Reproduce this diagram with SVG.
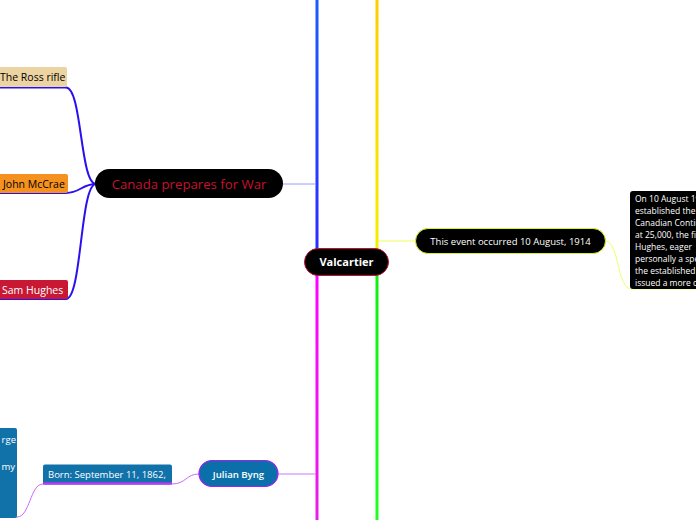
<svg xmlns="http://www.w3.org/2000/svg" width="696" height="520" viewBox="0 0 696 520">
<defs>
<linearGradient id="gBlue" x1="0" y1="0" x2="0" y2="1"><stop offset="0" stop-color="#1a5cff"/><stop offset="1" stop-color="#2e2aff"/></linearGradient>
<linearGradient id="gYellow" x1="0" y1="0" x2="0" y2="1"><stop offset="0" stop-color="#ffcc00"/><stop offset="1" stop-color="#f2f000"/></linearGradient>
<linearGradient id="gMag" x1="0" y1="0" x2="0" y2="1"><stop offset="0" stop-color="#ff00ff"/><stop offset="1" stop-color="#e81ee8"/></linearGradient>
<linearGradient id="gGreen" x1="0" y1="0" x2="0" y2="1"><stop offset="0" stop-color="#11ee11"/><stop offset="1" stop-color="#22ff22"/></linearGradient>
</defs>
<style>
text{font-family:"Open Sans","Noto Sans","DejaVu Sans",sans-serif;}
.thin{fill:none;stroke-width:1;}
.br{fill:none;stroke:#2a10f0;stroke-width:2;}
.t9{font-size:9.5px;}
.leaf{font-size:10.5px;}
.wt{fill:#ffffff;}
</style>
<rect width="696" height="520" fill="#ffffff"/>
<g id="connectors">
<rect x="315.5" y="0" width="3" height="250" fill="url(#gBlue)"/>
<rect x="375.5" y="0" width="3" height="250" fill="url(#gYellow)"/>
<rect x="315.5" y="274" width="3" height="246" fill="url(#gMag)"/>
<rect x="375.5" y="274" width="3" height="246" fill="url(#gGreen)"/>
<path class="thin" stroke="#9a9aff" d="M283,184 H316"/>
<path class="thin" stroke="#eeff55" d="M378,241 H416"/>
<path class="thin" stroke="#cc77ff" d="M278,474 H316"/>
<path class="br" d="M96,184 C80,184 82,87.5 66,87.5 H0"/>
<path class="br" d="M96,184 C82,184 80,193 66,193 H0"/>
<path class="br" d="M96,184 C80,184 82,299 66,299 H0"/>
<path class="thin" stroke="#eeff66" d="M605,241 C620,241 616,289 632,289 H696"/>
<path class="thin" stroke="#cc66ff" d="M199,474 C186,474 186,484 172,484 H43"/>
<path class="thin" stroke="#cc66ff" d="M43,484 C30,484 30,517 17,517 H0"/>
</g>
<g id="valcartier">
<rect x="304.5" y="248.5" width="84" height="27" rx="13.5" fill="#000000" stroke="#c0103a" stroke-width="1"/>
<text x="346.5" y="266" text-anchor="middle" font-size="11px" font-weight="bold" class="wt">Valcartier</text>
</g>
<g id="canada">
<rect x="95" y="169" width="188" height="29" rx="14.5" fill="#000000"/>
<text x="189" y="188.5" text-anchor="middle" font-size="13.2px" fill="#c8102e">Canada prepares for War</text>
</g>
<g id="ross">
<rect x="-4" y="67" width="71" height="20" rx="2" fill="#ecd3a2"/>
<text x="0" y="81" class="leaf" fill="#000000">The Ross rifle</text>
</g>
<g id="mccrae">
<rect x="-4" y="174" width="72" height="19" rx="2" fill="#f5911e"/>
<text x="3" y="187.5" class="leaf" fill="#000000">John McCrae</text>
</g>
<g id="hughes">
<rect x="-4" y="280" width="72" height="19" rx="2" fill="#c81834"/>
<text x="2" y="293.5" class="leaf wt">Sam Hughes</text>
</g>
<g id="event">
<rect x="415.5" y="228.5" width="190" height="25" rx="12.5" fill="#000000" stroke="#d8f020" stroke-width="1"/>
<text x="510.5" y="244.5" text-anchor="middle" class="t9 wt">This event occurred 10 August, 1914</text>
</g>
<g id="event-note">
<rect x="630" y="191" width="80" height="98" rx="3" fill="#000000"/>
<g font-size="8.5px" fill="#ffffff">
<text x="635" y="202">On 10 August 1914</text>
<text x="635" y="214">established the</text>
<text x="635" y="226">Canadian Contingent</text>
<text x="635" y="238">at 25,000, the figure</text>
<text x="635" y="250">Hughes, eager</text>
<text x="635" y="262">personally a special</text>
<text x="635" y="274">the established</text>
<text x="635" y="286">issued a more c</text>
</g>
</g>
<g id="byng">
<rect x="199" y="460.5" width="79" height="26" rx="13" fill="#0b70aa" stroke="#a020f0" stroke-width="1.2"/>
<text x="238.5" y="477.5" text-anchor="middle" font-size="9.6px" font-weight="600" class="wt">Julian Byng</text>
</g>
<g id="born">
<rect x="43" y="464.5" width="129" height="20" rx="2" fill="#1172aa"/>
<rect x="43" y="482.5" width="129" height="2" fill="#cc33ff"/>
<text x="48" y="478" class="t9 wt">Born: September 11, 1862,</text>
</g>
<g id="george">
<rect x="-4" y="428" width="21" height="90" rx="2" fill="#1172aa"/>
<text x="16" y="443" text-anchor="end" class="t9 wt">rge</text>
<text x="15" y="470" text-anchor="end" class="t9 wt">my</text>
</g>
</svg>
